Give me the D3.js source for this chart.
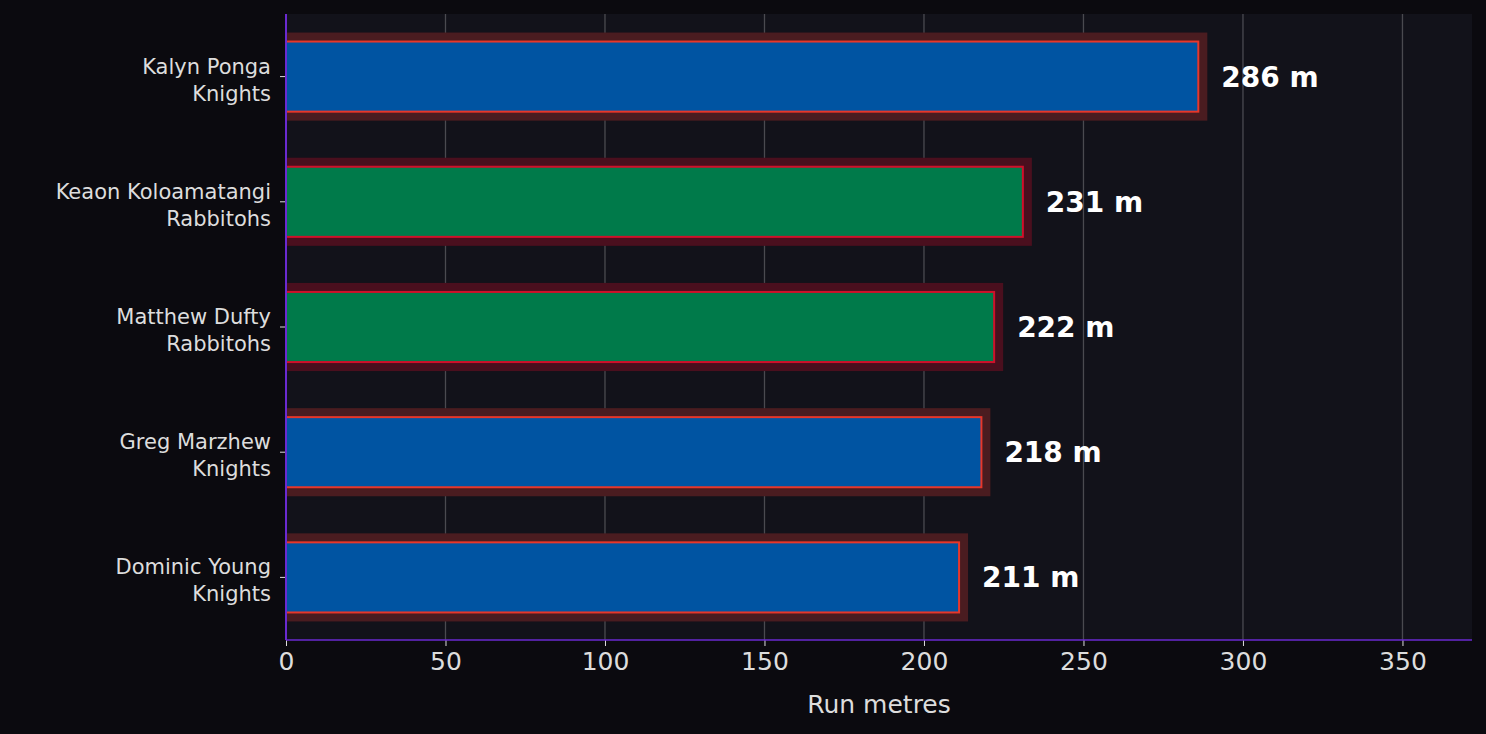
<!DOCTYPE html>
<html><head><meta charset="utf-8">
<script src="https://cdn.jsdelivr.net/npm/d3@7"></script>
<style>body{margin:0;background:#0b0a0f;}svg{display:block;font-family:"DejaVu Sans",sans-serif;}</style>
</head><body>
<svg id="chart" width="1486" height="734"></svg>
<script>
const players = ["Kalyn Ponga", "Keaon Koloamatangi", "Matthew Dufty", "Greg Marzhew", "Dominic Young"];
const teams = ["Knights", "Rabbitohs", "Rabbitohs", "Knights", "Knights"];
const metres = [286, 231, 222, 218, 211];
const xTicks = [0, 50, 100, 150, 200, 250, 300, 350];

const teamFill = {Knights: "#0054a2", Rabbitohs: "#007a4a"};
const teamEdge = {Knights: "#e8372a", Rabbitohs: "#d0102a"};
const teamGlow = {Knights: "#4a1c20", Rabbitohs: "#4a0f1e"};

const m = {left: 286, right: 14, top: 14, bottom: 94};
const W = 1486, H = 734;
const svg = d3.select("#chart");
svg.append("rect").attr("width", W).attr("height", H).attr("fill", "#0b0a0f");
svg.append("rect").attr("x", m.left).attr("y", m.top)
  .attr("width", W - m.left - m.right).attr("height", H - m.top - m.bottom).attr("fill", "#12121a");

const x = d3.scaleLinear().domain([0, 371.8]).range([m.left, W - m.right]);
const y = d3.scaleBand().domain(d3.range(players.length)).range([m.top, H - m.bottom]).paddingInner(0.44).paddingOuter(0.22);

// grid
svg.append("g").selectAll("line").data(xTicks).join("line")
  .attr("x1", d => x(d)).attr("x2", d => x(d)).attr("y1", m.top).attr("y2", H - m.bottom)
  .attr("stroke", "#4a4a50").attr("stroke-width", 1.3);

const g = svg.append("g");
const bh = y.bandwidth();
// glow
g.selectAll(".glow").data(metres).join("rect")
  .attr("x", x(0)).attr("y", (d, i) => y(i) - 9)
  .attr("width", d => x(d) - x(0) + 9).attr("height", bh + 18)
  .attr("fill", (d, i) => teamGlow[teams[i]]);
g.selectAll(".bar").data(metres).join("rect")
  .attr("x", x(0)).attr("y", (d, i) => y(i))
  .attr("width", d => x(d) - x(0)).attr("height", bh)
  .attr("fill", (d, i) => teamFill[teams[i]])
  .attr("stroke", (d, i) => teamEdge[teams[i]]).attr("stroke-width", 2);
g.selectAll(".val").data(metres).join("text")
  .attr("x", d => x(d) + 23).attr("y", (d, i) => y(i) + bh / 2)
  .attr("dy", "0.36em").attr("fill", "#fff").attr("font-size", 28).attr("font-weight", "bold")
  .text(d => d + " m");

// y axis
const ya = svg.append("g");
players.forEach((p, i) => {
  const cy = y(i) + bh / 2;
  ya.append("line").attr("x1", m.left - 6).attr("x2", m.left).attr("y1", cy).attr("y2", cy).attr("stroke", "#ddd");
  const t = ya.append("text").attr("text-anchor", "end").attr("fill", "#ddd").attr("font-size", 21);
  t.append("tspan").attr("x", m.left - 15).attr("y", cy - 3).text(p);
  t.append("tspan").attr("x", m.left - 15).attr("y", cy + 24).text(teams[i]);
});

// x axis
const xa = svg.append("g").attr("transform", `translate(0,${H - m.bottom})`)
  .call(d3.axisBottom(x).tickValues(xTicks).tickSize(6).tickPadding(6));
xa.select(".domain").remove();
xa.selectAll("line").attr("stroke", "#ddd");
xa.selectAll("text").attr("fill", "#ddd").attr("font-size", 25).attr("font-family", "DejaVu Sans");

svg.append("line").attr("x1", m.left).attr("x2", W - m.right).attr("y1", H - m.bottom).attr("y2", H - m.bottom).attr("stroke", "#6a2ad0").attr("stroke-width", 1.5);
svg.append("line").attr("x1", m.left).attr("x2", m.left).attr("y1", m.top).attr("y2", H - m.bottom).attr("stroke", "#6a2ad0").attr("stroke-width", 2);

svg.append("text").attr("x", (m.left + W - m.right) / 2).attr("y", 713).attr("text-anchor", "middle")
  .attr("fill", "#ddd").attr("font-size", 25).text("Run metres");
</script>
</body></html>
